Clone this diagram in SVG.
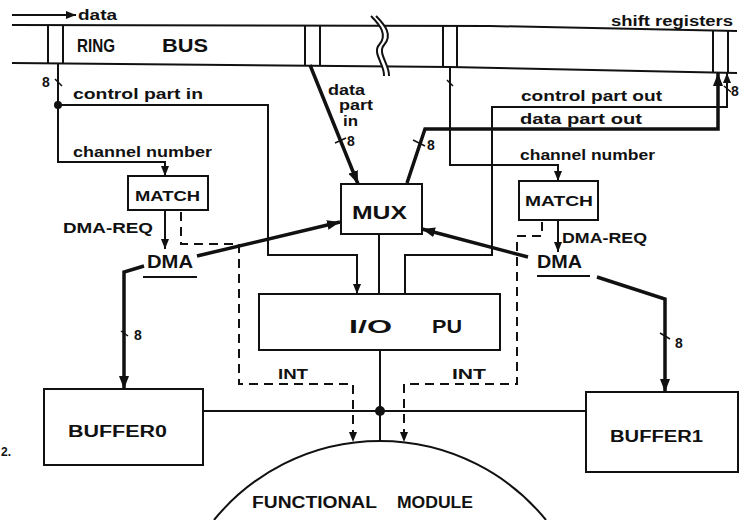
<svg xmlns="http://www.w3.org/2000/svg" width="740" height="520" viewBox="0 0 740 520">
<defs>
<marker id="ah" markerUnits="userSpaceOnUse" markerWidth="10" markerHeight="8" refX="10" refY="4" orient="auto"><path d="M0,0 L10,4 L0,8 z" fill="#111"/></marker>
<marker id="ahb" markerUnits="userSpaceOnUse" markerWidth="13" markerHeight="10" refX="13" refY="5" orient="auto"><path d="M0,0 L13,5 L0,10 z" fill="#111"/></marker>
<style>
text{font-family:"Liberation Sans",Arial,sans-serif;font-weight:bold;fill:#111}
.ln{fill:none;stroke:#111;stroke-width:2}
.tk{fill:none;stroke:#111;stroke-width:3.5}
.ds{fill:none;stroke:#111;stroke-width:2;stroke-dasharray:9 6}
.bx{fill:#fff;stroke:#111;stroke-width:2}
.tick{stroke:#111;stroke-width:1.5}
.dot{fill:#111}
.n8{font-size:14px}
</style>
</defs>
<rect x="0" y="0" width="740" height="520" fill="#fff"/>

<g id="ring-bus">
<path class="ln" d="M12,25 L490,26 L737,31"/>
<path class="ln" d="M12,63 L450,67 L737,73"/>
<path class="ln" d="M48,25 V63 M63,25 V63 M305,26 V66 M320,26 V66 M443,26 V67 M457,26 V67 M713,30 V72 M728,30 V72"/>
<path d="M371,16 C380,25 388,35 379,45 C372,53 385,65 384,76 L389,76 C390,65 377,53 384,45 C393,35 385,25 376,16 z" fill="#fff"/>
<path class="ln" d="M371,16 C380,25 388,35 379,45 C372,53 385,65 384,76"/>
<path class="ln" d="M376,16 C385,25 393,35 384,45 C377,53 390,65 389,76"/>
<text x="77" y="52" font-size="19" textLength="38" lengthAdjust="spacingAndGlyphs">RING</text>
<text x="162" y="52" font-size="19" textLength="46" lengthAdjust="spacingAndGlyphs">BUS</text>
<text x="611" y="26" font-size="14" textLength="122" lengthAdjust="spacingAndGlyphs">shift registers</text>
</g>

<g id="data-in-arrow">
<path class="ln" d="M12,15 L76,15" marker-end="url(#ah)"/>
<text x="78" y="20" font-size="14" textLength="39" lengthAdjust="spacingAndGlyphs">data</text>
</g>

<g id="match-left">
<rect class="bx" x="128" y="176" width="80" height="34"/>
<text x="135" y="201" font-size="15" textLength="65" lengthAdjust="spacingAndGlyphs">MATCH</text>
</g>

<g id="match-right">
<rect class="bx" x="519" y="181" width="79" height="39"/>
<text x="525" y="206" font-size="15" textLength="68" lengthAdjust="spacingAndGlyphs">MATCH</text>
</g>

<g id="dma-left">
<text x="147" y="268" font-size="18" textLength="46" lengthAdjust="spacingAndGlyphs">DMA</text>
<path class="ln" d="M143,277 L197,277"/>
</g>

<g id="dma-right">
<text x="537" y="268" font-size="18" textLength="45" lengthAdjust="spacingAndGlyphs">DMA</text>
<path class="ln" d="M537,276 L590,276"/>
</g>

<g id="mux">
<rect class="bx" x="341" y="184" width="81" height="50"/>
<text x="352" y="219" font-size="19" textLength="55" lengthAdjust="spacingAndGlyphs">MUX</text>
</g>

<g id="io-pu">
<rect class="bx" x="259" y="294" width="241" height="56"/>
<text x="349" y="333" font-size="19" textLength="43" lengthAdjust="spacingAndGlyphs">I/O</text>
<text x="432" y="333" font-size="19" textLength="30" lengthAdjust="spacingAndGlyphs">PU</text>
</g>

<g id="buffer0">
<rect class="bx" x="44" y="389" width="159" height="76"/>
<text x="68" y="437" font-size="16" textLength="99" lengthAdjust="spacingAndGlyphs">BUFFER0</text>
</g>

<g id="buffer1">
<rect class="bx" x="586" y="392" width="152" height="80"/>
<text x="610" y="442" font-size="16" textLength="93" lengthAdjust="spacingAndGlyphs">BUFFER1</text>
</g>

<g id="functional-module">
<path class="ln" d="M214,520 A214,214 0 0 1 546,520"/>
<text x="252" y="508" font-size="16" textLength="125" lengthAdjust="spacingAndGlyphs">FUNCTIONAL</text>
<text x="397" y="508" font-size="16" textLength="76" lengthAdjust="spacingAndGlyphs">MODULE</text>
</g>

<g id="connectors">
<path class="ln" d="M58,63 L58,162 L165,162 L165,176" marker-end="url(#ah)"/>
<path class="ln" d="M58,105 L268,105 L268,255 L357,255 L357,294" marker-end="url(#ah)"/>
<circle class="dot" cx="58" cy="105" r="4"/>
<line class="tick" x1="55" y1="79" x2="62" y2="86"/>
<text class="n8" x="42" y="87">8</text>
<text x="73" y="99" font-size="14" textLength="130" lengthAdjust="spacingAndGlyphs">control part in</text>
<text x="73" y="157" font-size="14" textLength="139" lengthAdjust="spacingAndGlyphs">channel number</text>

<path class="ln" d="M165,210 L165,249" marker-end="url(#ah)"/>
<text x="63" y="233" font-size="14" textLength="90" lengthAdjust="spacingAndGlyphs">DMA-REQ</text>

<path class="ds" d="M181,212 L181,244 L239,244 L239,384 L353,384 L353,442" marker-end="url(#ah)"/>
<text x="278" y="379" font-size="14" textLength="30" lengthAdjust="spacingAndGlyphs">INT</text>

<path class="tk" d="M197,256 L340,222" marker-end="url(#ahb)"/>
<path class="tk" d="M144,266 L124,272 L124,389" marker-end="url(#ahb)"/>
<line class="tick" x1="121" y1="331" x2="128" y2="336"/>
<text class="n8" x="134" y="340">8</text>

<path class="tk" d="M310,65 L358,184" marker-end="url(#ahb)"/>
<text x="328" y="95" font-size="14" textLength="37" lengthAdjust="spacingAndGlyphs">data</text>
<text x="339" y="110" font-size="14" textLength="34" lengthAdjust="spacingAndGlyphs">part</text>
<text x="343" y="126" font-size="14" textLength="15" lengthAdjust="spacingAndGlyphs">in</text>
<line class="tick" x1="335" y1="143" x2="346" y2="138"/>
<text class="n8" x="347" y="146">8</text>

<path class="tk" d="M407,183 L425,129 L718,129 L718,73" marker-end="url(#ahb)"/>
<line class="tick" x1="413" y1="140" x2="425" y2="146"/>
<text class="n8" x="427" y="150">8</text>
<text x="520" y="124" font-size="14" textLength="122" lengthAdjust="spacingAndGlyphs">data part out</text>

<path class="ln" d="M405,294 L405,255 L492,255 L492,107 L727,107 L727,73" marker-end="url(#ah)"/>
<line class="tick" x1="724" y1="86" x2="731" y2="92"/>
<text class="n8" x="731" y="96">8</text>
<text x="521" y="101" font-size="14" textLength="141" lengthAdjust="spacingAndGlyphs">control part out</text>

<path class="ln" d="M450,67 L450,165 L558,165 L558,181" marker-end="url(#ah)"/>
<line class="tick" x1="447" y1="80" x2="453" y2="86"/>
<text x="520" y="160" font-size="14" textLength="135" lengthAdjust="spacingAndGlyphs">channel number</text>

<path class="ln" d="M558,220 L558,252" marker-end="url(#ah)"/>
<text x="562" y="243" font-size="14" textLength="85" lengthAdjust="spacingAndGlyphs">DMA-REQ</text>

<path class="ds" d="M542,222 L542,236 L517,236 L517,384 L404,384 L404,442" marker-end="url(#ah)"/>
<text x="452" y="379" font-size="14" textLength="34" lengthAdjust="spacingAndGlyphs">INT</text>

<path class="tk" d="M528,257 L422,229" marker-end="url(#ahb)"/>
<path class="tk" d="M597,277 L665,299 L665,392" marker-end="url(#ahb)"/>
<line class="tick" x1="660" y1="333" x2="670" y2="339"/>
<text class="n8" x="675" y="348">8</text>

<path class="ln" d="M379,234 L379,294"/>
<path class="ln" d="M380,350 L380,441"/>
<path class="ln" d="M203,411 L586,411"/>
<circle class="dot" cx="380" cy="411" r="5"/>
</g>

<text x="1" y="456" font-size="12">2.</text>
</svg>
